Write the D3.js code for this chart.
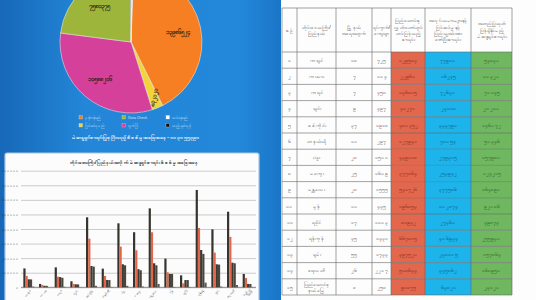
<!DOCTYPE html>
<html>
<head>
<meta charset="utf-8">
<script src="https://cdn.jsdelivr.net/npm/d3@7/dist/d3.min.js"></script>
<style>
  body { margin: 0; background: #fff; }
  svg { display: block; font-family: "Noto Sans", "DejaVu Sans", sans-serif; }
</style>
</head>
<body>
<svg id="chart"></svg>
<script>
// pie chart data
var pieNames = ["မှန်ကန်သည်", "ပြင်ဆင်ရမည်", "ပျက်ပြီ", "Data Check", "ထည့်သွင်းရန်", "ထပ်နေသည်"];
var pieValues = [13986524, 832120, 10588206, 7580375, 98560, 140230];
var pieColors = ["#f57f22", "#f3d33c", "#d5409b", "#9db53b", "#111111", "#ffffff"];

// bar chart + table data
var states = ["ကချင်", "ကယား", "ကရင်", "ချင်း", "စစ်ကိုင်း", "တနင်္သာရီ", "ပဲခူး", "မကွေး",
  "မန္တလေး", "မွန်", "ရခိုင်", "ရန်ကုန်", "ရှမ်း", "ဧရာဝတီ", "ပြည်ထောင်စု\nနယ်မြေ"];
var barLabels = ["ကချင်", "ကယား", "ကရင်", "ချင်း", "စစ်ကိုင်း", "တနင်္သာရီ", "ပဲခူး", "မကွေး",
  "မန္တလေး", "မွန်", "ရခိုင်", "ရန်ကုန်", "ရှမ်း", "ဧရာဝတီ", "နေပြည်\nတော်"];
var townships = [18, 7, 7, 9, 37, 10, 28, 25, 28, 10, 17, 45, 55, 26, 8];
var wards = [725, 104, 458, 497, 1918, 297, 1501, 1609, 1555, 445, 1103, 1431, 1733, 2207, 258];
var s1 = [129584, 22960, 136815, 41270, 480352, 127940, 439118, 377864, 541726, 196853, 81942, 667815, 397520, 518634, 91875];
var s2 = [77910, 16245, 72630, 23118, 333790, 78054, 279315, 253942, 377586, 102874, 27360, 406934, 238105, 345862, 63821];
var s3 = [54830, 10320, 70145, 20210, 146072, 50346, 157980, 124215, 164890, 92086, 49874, 255930, 157864, 168950, 23120];
var s4 = [54120, 9860, 65080, 19855, 141930, 49820, 151240, 116905, 151062, 91730, 49620, 229145, 155980, 164825, 22640];
var s5 = [4820, 610, 2950, 870, 10240, 1830, 9860, 5120, 22810, 2040, 1650, 31920, 4930, 15890, 1460];
var yTicks = [0, 100000, 200000, 300000, 400000, 500000, 600000, 700000, 800000];

var headers = [["စဉ်"], ["တိုင်းဒေသကြီး/", "ပြည်နယ်"], ["မြို့နယ်", "အရေအတွက်"], ["ရပ်ကွက်/", "ကျေးရွာ"],
  ["ပြည်ထောင်စု", "လွှတ်တော်တွင်", "တင်ပြခဲ့သည့်", "စာရင်း"],
  ["အလုပ်သမားများနှင့်", "ပြင်ဆင်မှုနှင့်", "ပြည်သူ့အင်အား", "ဖော်ပြီးစာရင်း"],
  ["အတည်ပြုထုတ်", "ပြန်ရှိနိုင်မည့်", "မဲဆန္ဒရှင်စာရင်း"]];

function my(n) {
  return String(n).replace(/\d/g, function(d) { return String.fromCharCode(0x1040 + (+d)); });
}

var W = 536, H = 300;
var svg = d3.select("#chart").attr("width", W).attr("height", H);
var defs = svg.append("defs");

var bg = defs.append("linearGradient").attr("id", "bg").attr("x1", 0).attr("x2", 1).attr("y1", 0).attr("y2", 0);
bg.append("stop").attr("offset", "0").attr("stop-color", "#1768b8");
bg.append("stop").attr("offset", "0.3").attr("stop-color", "#2386d8");
bg.append("stop").attr("offset", "0.85").attr("stop-color", "#2388da");
bg.append("stop").attr("offset", "1").attr("stop-color", "#1a74c6");

svg.append("rect").attr("width", 282).attr("height", H).attr("fill", "url(#bg)");
svg.append("rect").attr("x", 281).attr("width", W - 281).attr("height", H).attr("fill", "#fdfdfd");

// ---- pie ----
var pieG = svg.append("g").attr("transform", "translate(131,42)");
var pie = d3.pie().sort(null).startAngle(2 * Math.PI / 180).endAngle(2 * Math.PI + 2 * Math.PI / 180);
var arc = d3.arc().innerRadius(0).outerRadius(71);
var arcs = pie(pieValues);

pieG.selectAll("path")
  .data(arcs)
  .enter()
  .append("path")
  .attr("d", arc)
  .attr("fill", function(d, i) { return pieColors[i]; })
  .attr("stroke", "#f4f0e8")
  .attr("stroke-width", 0.5);

var labelArc = d3.arc().innerRadius(48).outerRadius(48);
var labelArc2 = d3.arc().innerRadius(60).outerRadius(60);
pieG.selectAll("text.pl")
  .data(arcs.slice(0, 4))
  .enter()
  .append("text")
  .attr("class", "pl")
  .attr("transform", function(d, i) {
    var c = (i == 1 ? labelArc2 : labelArc).centroid(d);
    return "translate(" + c + ")" + (i == 1 ? " rotate(-80)" : "");
  })
  .attr("text-anchor", "middle")
  .attr("dy", "0.35em")
  .attr("font-size", 6)
  .attr("font-weight", "bold")
  .attr("fill", "#2a1a10")
  .text(function(d) { return my(d.value); });

// legend
var legendX = [79, 122, 166], legendY = [118, 126];
var legendOrder = [0, 3, 5, 1, 2, 4];
legendOrder.forEach(function(k, j) {
  var lx = legendX[j % 3], ly = legendY[Math.floor(j / 3)];
  svg.append("rect").attr("x", lx).attr("y", ly - 2.5).attr("width", 3.5).attr("height", 3.5)
    .attr("fill", pieColors[k]).attr("stroke", "#dde").attr("stroke-width", 0.3);
  svg.append("text").attr("x", lx + 6).attr("y", ly + 1).attr("font-size", 3.6)
    .attr("fill", "#dfe8f4").text(pieNames[k]);
});

svg.append("text").attr("x", 136).attr("y", 139).attr("text-anchor", "middle")
  .attr("font-size", 5.2).attr("font-weight", "bold").attr("fill", "#f4f6fa")
  .text("မဲဆန္ဒရှင်စာရင်းပြုစုပြီးသည့်  စိစစ်မှုအခြေအနေ   -   ၁၀၃၀၅၅၃၉၀");

// ---- bar chart ----
svg.append("rect").attr("x", 5).attr("y", 153).attr("width", 254).attr("height", 160)
  .attr("rx", 2).attr("fill", "#fcfcfc").attr("stroke", "#a9c6e6").attr("stroke-width", 1.2);

svg.append("text").attr("x", 134).attr("y", 164).attr("text-anchor", "middle")
  .attr("font-size", 4.6).attr("font-weight", "bold").attr("fill", "#222")
  .text("တိုင်းဒေသကြီး/ပြည်နယ်အလိုက် မဲဆန္ဒရှင်စာရင်း စိစစ်မှုအခြေအနေ");

var y = d3.scaleLinear().domain([0, 800000]).range([287.3, 170.7]);
var x0 = d3.scaleBand().domain(d3.range(states.length)).range([21, 256]).paddingInner(0.3).paddingOuter(0.15);
var series = [s1, s2, s3, s4, s5];
var seriesColors = ["#36342e", "#e2674a", "#3c3a33", "#48463e", "#5c5a54"];
var x1 = d3.scaleBand().domain(d3.range(series.length)).range([0, x0.bandwidth()]);

var grid = svg.append("g").attr("transform", "translate(21,0)")
  .call(d3.axisLeft(y).tickValues(yTicks).tickSize(-235).tickFormat(my));
grid.select(".domain").remove();
grid.selectAll(".tick line").attr("stroke", "#9a9a9a").attr("stroke-width", 0.5);
grid.selectAll(".tick text").attr("font-size", 3.4).attr("fill", "#333").attr("x", -2);

svg.append("line").attr("x1", 21).attr("x2", 256).attr("y1", y(0)).attr("y2", y(0))
  .attr("stroke", "#555").attr("stroke-width", 0.6);

var groups = svg.selectAll("g.grp")
  .data(states)
  .enter()
  .append("g")
  .attr("class", "grp")
  .attr("transform", function(d, i) { return "translate(" + x0(i) + ",0)"; });

groups.selectAll("rect")
  .data(function(d, i) { return series.map(function(s, k) { return { k: k, v: s[i] }; }); })
  .enter()
  .append("rect")
  .attr("x", function(d) { return x1(d.k); })
  .attr("y", function(d) { return y(d.v); })
  .attr("width", x1.bandwidth())
  .attr("height", function(d) { return y(0) - y(d.v); })
  .attr("fill", function(d) { return seriesColors[d.k]; });

var xAxis = svg.append("g").attr("transform", "translate(0," + y(0) + ")")
  .call(d3.axisBottom(x0).tickSize(0).tickFormat(""));
xAxis.select(".domain").remove();
xAxis.selectAll(".tick").each(function(i) {
  var lines = barLabels[i].split("\n");
  var t = d3.select(this).append("text")
    .attr("font-size", 3)
    .attr("fill", "#222")
    .attr("text-anchor", "end")
    .attr("transform", "translate(" + (1 + lines.length) + ",3) rotate(-45)");
  lines.forEach(function(l, k) {
    t.append("tspan").attr("x", 0).attr("dy", k == 0 ? (lines.length > 1 ? "-0.2em" : "0.3em") : "1.1em").text(l);
  });
});

// ---- table ----
var colX = [282, 297, 336, 372, 391, 425, 471, 512];
var headTop = 8, headBot = 52, rowH = 16.2;
var fills = [null, null, null, null, "#e2674d", "#1cb4ea", "#6fb860"];
var txtColors = ["#333", "#333", "#333", "#333", "#5a1a0c", "#0c3a66", "#1c3f14"];
var table = svg.append("g");

var rows = states.map(function(s, i) {
  return [my(i + 1), s, my(townships[i]), my(wards[i]), my(s1[i]), my(s2[i]), my(s3[i])];
});

rows.forEach(function(r, i) {
  var ty = headBot + i * rowH;
  r.forEach(function(cell, c) {
    if (fills[c]) {
      table.append("rect").attr("x", colX[c]).attr("y", ty).attr("width", colX[c + 1] - colX[c])
        .attr("height", rowH).attr("fill", fills[c]);
    }
    var lines = cell.split("\n");
    var t = table.append("text").attr("x", (colX[c] + colX[c + 1]) / 2)
      .attr("y", ty + rowH / 2 - (lines.length - 1) * 3)
      .attr("text-anchor", "middle")
      .attr("font-size", 5).attr("fill", txtColors[c]);
    lines.forEach(function(l, k) {
      t.append("tspan").attr("x", (colX[c] + colX[c + 1]) / 2).attr("dy", k == 0 ? "0.35em" : "1.2em").text(l);
    });
  });
});

headers.forEach(function(h, c) {
  var cx = (colX[c] + colX[c + 1]) / 2;
  var t = table.append("text").attr("text-anchor", "middle").attr("font-size", 4.8).attr("fill", "#333")
    .attr("y", (headTop + headBot) / 2 - (h.length - 1) * 3.1);
  h.forEach(function(l, k) {
    t.append("tspan").attr("x", cx).attr("dy", k == 0 ? "0.35em" : "1.3em").text(l);
  });
});

var tableBot = headBot + rows.length * rowH;
colX.forEach(function(cx) {
  table.append("line").attr("x1", cx).attr("x2", cx).attr("y1", headTop).attr("y2", tableBot)
    .attr("stroke", "#666").attr("stroke-width", 0.6);
});
d3.range(rows.length + 2).forEach(function(k) {
  var ly = k == 0 ? headTop : headBot + (k - 1) * rowH;
  table.append("line").attr("x1", colX[0]).attr("x2", colX[colX.length - 1]).attr("y1", ly).attr("y2", ly)
    .attr("stroke", "#666").attr("stroke-width", 0.6);
});
</script>
</body>
</html>
